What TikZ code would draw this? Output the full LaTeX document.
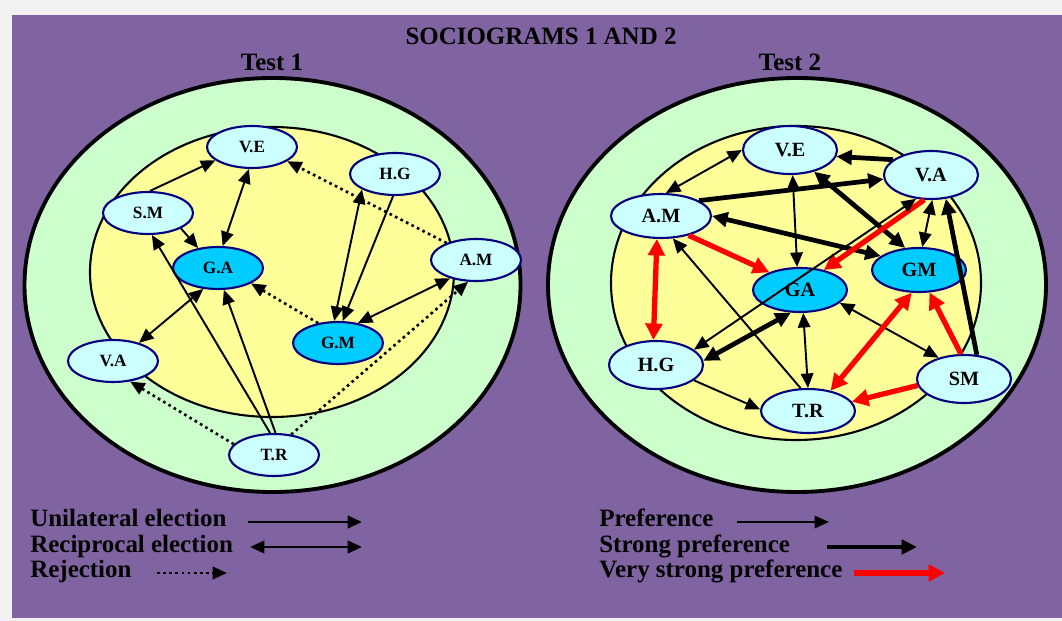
\documentclass[tikz,border=0pt]{standalone}
\usepackage{fontspec}
\setmainfont{Liberation Serif}
\usetikzlibrary{arrows.meta,shapes.geometric}

\definecolor{slide}{HTML}{8064A2}
\definecolor{paper}{HTML}{F2F2F2}
\definecolor{field}{HTML}{CCFFCC}
\definecolor{core}{HTML}{FFFF99}
\definecolor{kidfill}{HTML}{CCFFFF}
\definecolor{starfill}{HTML}{00CCFF}
\definecolor{rim}{HTML}{000080}

\begin{document}
\begin{tikzpicture}[x=0.02cm, y=-0.02cm,
        kid/.style={ellipse, draw=rim, line width=1.2pt, fill=kidfill, inner sep=0pt, font=\bfseries\fontsize{9.8}{10}\selectfont, minimum width=1.8cm, minimum height=0.84cm},
        star/.style={kid, fill=starfill},
        bigkid/.style={kid, font=\bfseries\fontsize{11.5}{12}\selectfont, minimum width=1.88cm, minimum height=0.96cm},
        bigstar/.style={bigkid, fill=starfill},
        label/.style={font=\bfseries\fontsize{14.2}{16}\selectfont, inner sep=0pt},
        uni/.style={-{Triangle[length=2.9mm,width=2.5mm]}, line width=1.1pt},
        mutual/.style={{Triangle[length=2.9mm,width=2.5mm]}-{Triangle[length=2.9mm,width=2.5mm]}, line width=1.1pt},
        reject/.style={-{Triangle[length=2.9mm,width=2.5mm]}, line width=1.5pt, dotted},
        strong/.style={-{Triangle[length=3.1mm,width=2.9mm]}, line width=2.7pt},
        strongmutual/.style={{Triangle[length=3.1mm,width=2.9mm]}-{Triangle[length=3.1mm,width=2.9mm]}, line width=2.7pt},
        vstrong/.style={-{Triangle[length=3.3mm,width=3.3mm]}, line width=3pt, red},
        vstrongmutual/.style={{Triangle[length=3.3mm,width=3.3mm]}-{Triangle[length=3.3mm,width=3.3mm]}, line width=3pt, red}
      ]
      % slide background
      \fill[paper] (0,0) rectangle (1062,621);
      \useasboundingbox (0,0) rectangle (1062,621);
      \fill[slide] (12,15) rectangle (1062,618);

      \node[label, anchor=base] (title) at (541,45) {SOCIOGRAMS 1 AND 2};
      \node[label, anchor=base] (test1) at (272,71) {Test 1};
      \node[label, anchor=base] (test2) at (790,71) {Test 2};

      % the two circles
      \draw[fill=field, line width=2.2pt] (272.5,285) ellipse [x radius=248, y radius=207];
      \draw[fill=core, line width=1.2pt] (272,272) ellipse [x radius=182, y radius=145];
      \draw[fill=field, line width=2.2pt] (797,285) ellipse [x radius=249, y radius=207];
      \draw[fill=core, line width=1.2pt] (796,283) ellipse [x radius=185, y radius=157];

      % Test 1
      \node[kid] (ve1) at (252,147) {V.E};
      \node[kid] (hg1) at (395,174) {H.G};
      \node[kid] (sm1) at (148,213) {S.M};
      \node[star] (ga1) at (218,268) {G.A};
      \node[kid] (am1) at (476,260) {A.M};
      \node[star] (gm1) at (338,343) {G.M};
      \node[kid] (va1) at (113,361) {V.A};
      \node[kid] (tr1) at (274,455) {T.R};

      \draw[uni] (sm1.85) -- (ve1.200);
      \draw[mutual] (ve1.262) -- (ga1.78);
      \draw[uni] (sm1.-25) -- (ga1.135);
      \draw[mutual] (hg1.205) -- (gm1.100);
      \draw[uni] (hg1.-95) -- (gm1.78);
      \draw[reject] (am1.150) -- (ve1.-22);
      \draw[mutual] (am1.215) -- (gm1.45);
      \draw[reject] (tr1.50) -- (am1.250);
      \draw[reject] (gm1.135) -- (ga1.-25);
      \draw[uni] (tr1.100) -- (sm1.280);
      \draw[uni] (tr1.86) -- (ga1.-75);
      \draw[mutual] (ga1.235) -- (va1.35);
      \draw[reject] (tr1.165) -- (va1.-50);

      % Test 2
      \node[bigkid] (ve2) at (790,150) {V.E};
      \node[bigkid] (va2) at (931,175) {V.A};
      \node[bigkid, minimum width=2cm, minimum height=0.88cm] (am2) at (661,216) {A.M};
      \node[bigstar, minimum height=0.88cm] (gm2) at (919,270) {GM};
      \node[bigstar, minimum height=0.88cm] (ga2) at (800,290) {GA};
      \node[bigkid] (hg2) at (656,365) {H.G};
      \node[bigkid, minimum height=0.88cm] (tr2) at (808,411) {T.R};
      \node[bigkid] (sm2) at (964,379) {SM};

      \draw[mutual] (ve2.180) -- (am2.78);
      \draw[strong] (va2.158) -- (ve2.-8);
      \draw[strong] (am2.22) -- (va2.185);
      \draw[mutual] (ve2.-84) -- (ga2.97);
      \draw[strongmutual] (ve2.-42) -- (gm2.122);
      \draw[strongmutual] (am2.0) -- (gm2.160);
      \draw[vstrong] (am2.-35) -- (ga2.150);
      \draw[vstrong] (va2.-105) -- (ga2.40);
      \draw[mutual] (va2.-122) -- (hg2.22);
      \draw[mutual] (va2.-87) -- (gm2.82);
      \draw[strong] (sm2.62) -- (va2.-58);
      \draw[vstrongmutual] (am2.-100) -- (hg2.96);
      \draw[uni] (tr2.108) -- (am2.-62);
      \draw[strongmutual] (hg2.5) -- (ga2.-112);
      \draw[mutual] (ga2.-82) -- (tr2.90);
      \draw[mutual] (ga2.-18) -- (sm2.140);
      \draw[uni] (hg2.-22) -- (tr2.178);
      \draw[vstrongmutual] (gm2.-108) -- (tr2.42);
      \draw[vstrong] (sm2.97) -- (gm2.-65);
      \draw[vstrong] (sm2.188) -- (tr2.12);

      % legends
      \node[label, anchor=base west] (keyuni) at (30,526) {Unilateral election};
      \node[label, anchor=base west] (keymut) at (30,552) {Reciprocal election};
      \node[label, anchor=base west] (keyrej) at (30,578) {Rejection};
      \coordinate (uniA) at (248,522);
      \coordinate (uniB) at (362,522);
      \coordinate (mutA) at (250,547);
      \coordinate (mutB) at (362,547);
      \coordinate (rejA) at (157,573);
      \coordinate (rejB) at (227,573);
      \draw[uni, line width=1.7pt] (uniA) -- (uniB);
      \draw[mutual, line width=1.7pt] (mutA) -- (mutB);
      \draw[reject] (rejA) -- (rejB);

      \node[label, anchor=base west] (keypref) at (599,526) {Preference};
      \node[label, anchor=base west] (keystrong) at (599,552) {Strong preference};
      \node[label, anchor=base west] (keyvstrong) at (599,578) {Very strong preference};
      \coordinate (prefA) at (737,522);
      \coordinate (prefB) at (829,522);
      \coordinate (strongA) at (827,547);
      \coordinate (strongB) at (917,547);
      \coordinate (vstrongA) at (854,573);
      \coordinate (vstrongB) at (945,573);
      \draw[uni] (prefA) -- (prefB);
      \draw[strong] (strongA) -- (strongB);
      \draw[vstrong] (vstrongA) -- (vstrongB);
    \end{tikzpicture}
\end{document}
